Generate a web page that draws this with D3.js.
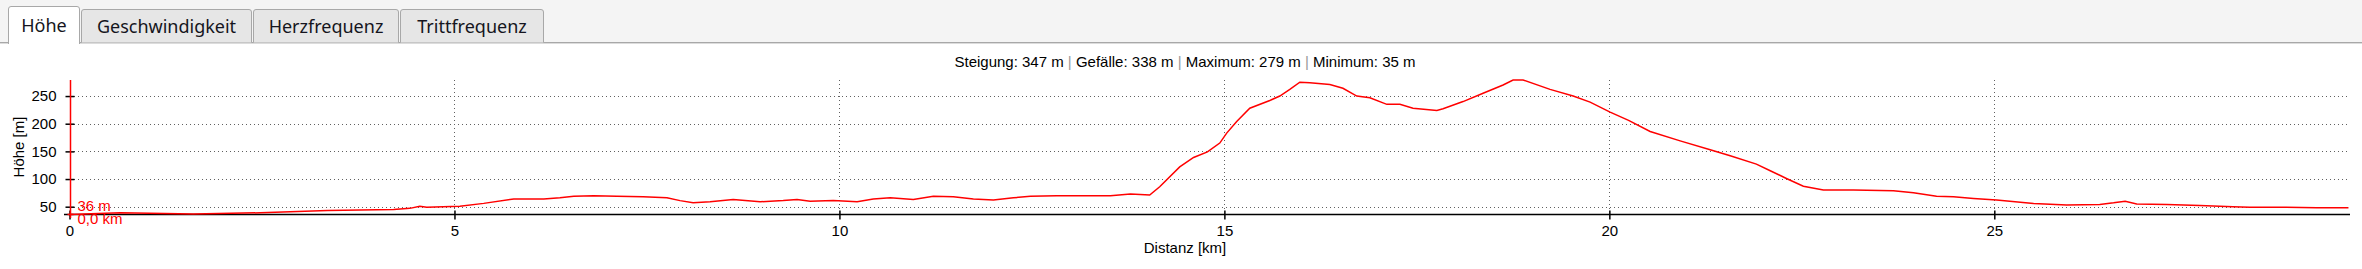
<!DOCTYPE html>
<html>
<head>
<meta charset="utf-8">
<script src="https://cdn.jsdelivr.net/npm/d3@7"></script>
<style>
  html, body { margin: 0; padding: 0; background: #ffffff; }
  svg { display: block; }
</style>
</head>
<body>
<svg id="chart" width="2362" height="269"></svg>
<script>
// Tabs above the chart
const tabLabels = ["Höhe", "Geschwindigkeit", "Herzfrequenz", "Trittfrequenz"];
const tabWidths = [72, 171, 146, 144];

// Distance along the track (km) and altitude (m)
const distKm = [0, 0.66, 1.61, 2.48, 3.35, 4.21, 4.42, 4.55, 4.64, 4.85, 5.07, 5.38, 5.77, 6.16, 6.37,
    6.55, 6.81, 7.11, 7.45, 7.76, 7.93, 8.10, 8.32, 8.62, 8.97, 9.27, 9.45, 9.62, 9.92, 10.23,
    10.44, 10.66, 10.96, 11.22, 11.48, 11.74, 12.0, 12.26, 12.48, 12.82, 13.26, 13.52, 13.78, 14.03,
    14.16, 14.42, 14.6, 14.78, 14.94, 15.03, 15.16, 15.33, 15.59, 15.72, 15.85, 15.98, 16.11, 16.37,
    16.54, 16.72, 16.89, 17.11, 17.28, 17.45, 17.76, 17.84, 18.1, 18.36, 18.62, 18.75, 18.88, 19.23,
    19.53, 19.75, 20.01, 20.25, 20.53, 20.92, 21.31, 21.57, 21.91, 22.09, 22.30, 22.52, 22.78, 23.17,
    23.69, 23.95, 24.25, 24.47, 24.73, 25.03, 25.51, 25.94, 26.37, 26.55, 26.70, 26.85, 27.24, 27.67,
    28.1, 28.32, 28.75, 29.19, 29.6];
const heightM = [36, 39, 37, 39, 43, 45, 47, 51, 49, 50, 51, 56, 64, 64, 66,
    69, 70, 69, 68, 66, 61, 57, 59, 63, 59, 61, 63, 60, 61, 59,
    64, 66, 63, 69, 68, 64, 62, 66, 69, 70, 70, 70, 73, 71,
    86, 122, 139, 149, 165, 183, 204, 228, 242, 250, 262, 275, 274, 271,
    264, 250, 247, 235, 235, 228, 224, 227, 240, 255, 270, 279, 279, 262,
    250, 239, 221, 206, 186, 169, 153, 142, 127, 115, 101, 87, 80, 80,
    79, 75, 69, 68, 65, 62, 56, 53, 54, 57, 60, 55, 54, 52,
    50, 49, 49, 48, 48];

const xTicks = [0, 5, 10, 15, 20, 25];
const yTicks = [50, 100, 150, 200, 250];
const statsParts = ["Steigung: 347 m", "Gefälle: 338 m", "Maximum: 279 m", "Minimum: 35 m"];
const cursor = { km: 0, m: 36, kmLabel: "0,0 km", mLabel: "36 m" };

const svg = d3.select("#chart");
const labelFont = "Liberation Sans, Arial, sans-serif";

// Tab-Leiste
const tabBar = svg.append("g").attr("class", "tabs");
tabBar.append("rect").attr("x", 0).attr("y", 0).attr("width", 2362).attr("height", 42).attr("fill", "#f4f4f4");
tabBar.append("line").attr("x1", 0).attr("x2", 2362).attr("y1", 42.5).attr("y2", 42.5).attr("stroke", "#a8a8a8");
tabBar.append("line").attr("x1", 0).attr("x2", 2362).attr("y1", 43.5).attr("y2", 43.5).attr("stroke", "#dcdcdc");

let tx = 8;
tabLabels.forEach((label, i) => {
    const selected = i === 0;
    const top = selected ? 6 : 9;
    const w = tabWidths[i];
    const g = tabBar.append("g");
    g.append("path")
        .attr("d", `M${tx + 0.5},${selected ? 44 : 42.5} L${tx + 0.5},${top + 3} Q${tx + 0.5},${top + 0.5} ${tx + 3},${top + 0.5} L${tx + w - 3},${top + 0.5} Q${tx + w - 0.5},${top + 0.5} ${tx + w - 0.5},${top + 3} L${tx + w - 0.5},${selected ? 44 : 42.5}`)
        .attr("fill", selected ? "#ffffff" : "#e6e6e6")
        .attr("stroke", "#a8a8a8");
    g.append("text")
        .attr("x", tx + w / 2)
        .attr("y", selected ? 32 : 33)
        .attr("text-anchor", "middle")
        .attr("font-family", "Noto Sans, sans-serif")
        .attr("font-size", 18)
        .attr("fill", "#151520")
        .text(label);
    tx += w + 1;
});

// Statistik-Zeile
const stats = svg.append("text")
    .attr("x", 1185)
    .attr("y", 67)
    .attr("text-anchor", "middle")
    .attr("font-family", labelFont)
    .attr("font-size", 15)
    .attr("fill", "#000");
statsParts.forEach((p, i) => {
    if (i > 0) stats.append("tspan").attr("fill", "#999").text(" | ");
    stats.append("tspan").text(p);
});

// Skalen
const x = d3.scaleLinear().domain([0, 29.62]).range([69.5, 2350]);
const y = d3.scaleLinear().domain([35, 279]).range([215, 80]);

// Gitter
const grid = svg.append("g").attr("class", "grid");
grid.selectAll(".hgrid")
    .data(yTicks)
    .enter()
    .append("line")
    .attr("x1", 74).attr("x2", 2350)
    .attr("y1", d => Math.round(y(d)) + 0.5).attr("y2", d => Math.round(y(d)) + 0.5)
    .attr("stroke", "#606060")
    .attr("stroke-dasharray", "1,3");
grid.selectAll(".vgrid")
    .data(xTicks.filter(d => d > 0))
    .enter()
    .append("line")
    .attr("x1", d => Math.round(x(d)) + 0.5).attr("x2", d => Math.round(x(d)) + 0.5)
    .attr("y1", 80).attr("y2", 211)
    .attr("stroke", "#606060")
    .attr("stroke-dasharray", "1,3");

// Achsen
const xAxis = svg.append("g")
    .attr("transform", `translate(0,${Math.round(y(35)) - 0.5})`)
    .call(d3.axisBottom(x).tickValues(xTicks).tickFormat(d3.format("d")).tickSize(5).tickSizeOuter(0));
xAxis.select(".domain").attr("stroke", "#000").attr("stroke-width", 1.5).attr("d", `M64,0H2350`);
xAxis.selectAll(".tick line").attr("y1", -4).attr("stroke", "#000").attr("stroke-width", 1.5);
xAxis.selectAll(".tick text")
    .attr("font-family", labelFont)
    .attr("font-size", 15)
    .attr("fill", "#000")
    .attr("dy", "0.75em")
    .attr("y", 10);

const yAxis = svg.append("g")
    .attr("transform", `translate(${Math.round(x(0)) + 0.5},0)`)
    .call(d3.axisLeft(y).tickValues(yTicks).tickSize(5).tickSizeOuter(0));
yAxis.select(".domain").remove();
yAxis.selectAll(".tick line").attr("x2", 4).attr("x1", -5).attr("stroke", "#000").attr("stroke-width", 1.5);
yAxis.selectAll(".tick text")
    .attr("font-family", labelFont)
    .attr("font-size", 15)
    .attr("fill", "#000")
    .attr("x", -14);

svg.append("text")
    .attr("transform", `translate(24,147) rotate(-90)`)
    .attr("text-anchor", "middle")
    .attr("font-family", labelFont)
    .attr("font-size", 15)
    .text("Höhe [m]");

svg.append("text")
    .attr("x", 1185)
    .attr("y", 253)
    .attr("text-anchor", "middle")
    .attr("font-family", labelFont)
    .attr("font-size", 15)
    .text("Distanz [km]");

// Höhenprofil
const profile = distKm.map((d, i) => ({ km: d, m: heightM[i] }));
svg.append("path")
    .datum(profile)
    .attr("fill", "none")
    .attr("stroke", "#ff0000")
    .attr("stroke-width", 1.5)
    .attr("d", d3.line().x(d => x(d.km)).y(d => y(d.m)));

// Cursor-Markierung
const cx = Math.round(x(cursor.km)) + 0.5;
svg.append("line")
    .attr("x1", cx).attr("x2", cx)
    .attr("y1", y(279)).attr("y2", 218)
    .attr("stroke", "#ff0000").attr("stroke-width", 1.5);
svg.append("line")
    .attr("x1", cx - 3).attr("x2", cx + 3)
    .attr("y1", y(cursor.m)).attr("y2", y(cursor.m))
    .attr("stroke", "#ff0000").attr("stroke-width", 1.5);
svg.append("text")
    .attr("x", cx + 7).attr("y", 211)
    .attr("font-family", labelFont)
    .attr("font-size", 15)
    .attr("fill", "#ff0000")
    .text(cursor.mLabel);
svg.append("text")
    .attr("x", cx + 7).attr("y", 224)
    .attr("font-family", labelFont)
    .attr("font-size", 15)
    .attr("fill", "#ff0000")
    .text(cursor.kmLabel);
</script>
</body>
</html>
